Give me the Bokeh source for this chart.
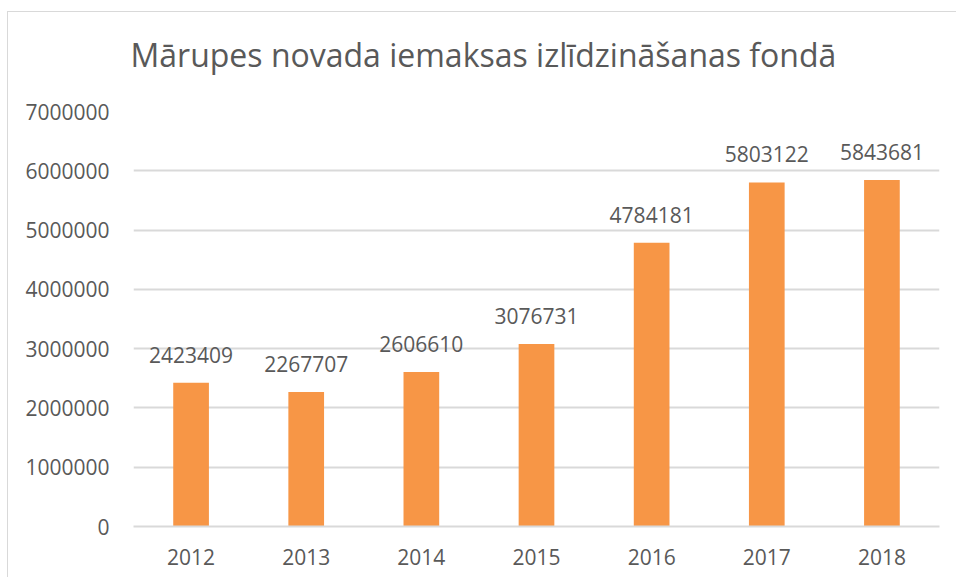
from bokeh.plotting import figure
from bokeh.models import Range1d, FactorRange, ColumnDataSource, LabelSet, Title, SingleIntervalTicker, NumeralTickFormatter
from bokeh.core.properties import value
from bokeh.embed import file_html
from bokeh.resources import INLINE

years = ["2012", "2013", "2014", "2015", "2016", "2017", "2018"]
values = [2423409, 2267707, 2606610, 3076731, 4784181, 5803122, 5843681]
title_text = "Mārupes novada iemaksas izlīdzināšanas fondā"
y_max = 7000000

FONT = "Open Sans"
TEXT = "#595959"
GRID = "#D9D9D9"
BAR = "#F79646"

src = ColumnDataSource(dict(x=years, top=values, lab=[str(v) for v in values]))

p = figure(width=949, height=566, x_range=FactorRange(*years), y_range=Range1d(0, y_max),
           output_backend="svg", toolbar_location=None, min_border_left=125,
           min_border_right=18, min_border_top=99, min_border_bottom=52)
p.styles = {"border-left": f"1px solid {GRID}", "border-top": f"1px solid {GRID}",
            "margin-top": "11px", "margin-left": "7px"}
p.outline_line_color = None
p.background_fill_color = "white"

p.vbar(x="x", top="top", width=0.31, source=src, fill_color=BAR, line_color=None)

labels = LabelSet(x="x", y="top", text="lab", source=src, text_align="center", text_baseline="alphabetic",
                  y_offset=20, text_font=value(FONT), text_font_size="21px", text_color=TEXT)
p.add_layout(labels)

spacer = Title(text=" ", text_font_size="2px", standoff=27)
p.add_layout(spacer, "above")
t = Title(text=title_text, text_font=FONT, text_font_size="32px", text_font_style="normal",
          text_color=TEXT, align="left", offset=-3, standoff=10)
p.add_layout(t, "above")

p.yaxis.ticker = SingleIntervalTicker(interval=1000000)
p.yaxis.formatter = NumeralTickFormatter(format="0")
p.yaxis.axis_line_color = None
p.yaxis.major_tick_line_color = None
p.yaxis.minor_tick_line_color = None
p.yaxis.major_label_standoff = 18
p.yaxis.major_label_text_font = FONT
p.yaxis.major_label_text_font_size = "21px"
p.yaxis.major_label_text_color = TEXT

p.xaxis.axis_line_color = GRID
p.xaxis.axis_line_width = 2
p.xaxis.major_tick_line_color = None
p.xaxis.minor_tick_line_color = None
p.xaxis.major_label_standoff = 16
p.xaxis.major_label_text_font = FONT
p.xaxis.major_label_text_font_size = "21px"
p.xaxis.major_label_text_color = TEXT

p.xgrid.grid_line_color = None
p.ygrid.grid_line_color = GRID
p.ygrid.grid_line_width = 2

open("out.html", "w").write(file_html(p, INLINE))
